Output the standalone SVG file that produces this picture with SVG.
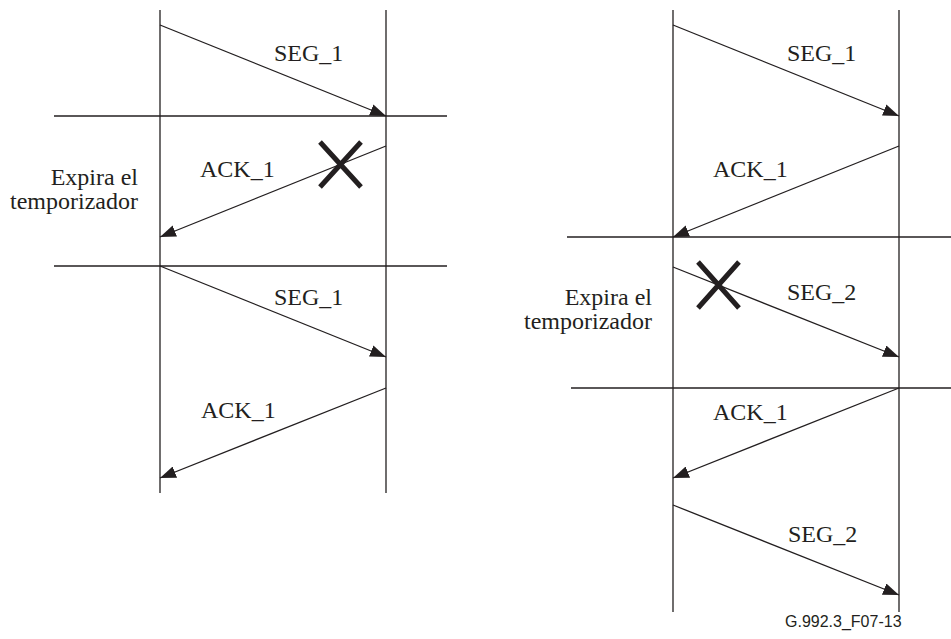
<svg xmlns="http://www.w3.org/2000/svg" width="951" height="639" viewBox="0 0 951 639">
<style>
.ln{stroke:#231f20;stroke-width:1.3;fill:none}
.ar{stroke:#231f20;stroke-width:1.3;fill:none;marker-end:url(#ah)}
.x{stroke:#231f20;stroke-width:5;fill:none}
.t{font-family:"Liberation Serif","DejaVu Serif","Times New Roman",serif;font-size:24px;fill:#231f20}
.f{font-family:"Liberation Sans",Arial,sans-serif;font-size:16px;fill:#231f20}
</style>
<defs>
<marker id="ah" markerUnits="userSpaceOnUse" markerWidth="18" markerHeight="12" refX="16" refY="6" orient="auto">
<path d="M0,0 L16,6 L0,12 Z" fill="#231f20"/>
</marker>
</defs>
<rect width="951" height="639" fill="#fff"/>
<g id="left-lifelines">
<line class="ln" x1="160" y1="10" x2="160" y2="493"/>
<line class="ln" x1="386" y1="10" x2="386" y2="493"/>
<line class="ln" x1="54" y1="116" x2="447" y2="116"/>
<line class="ln" x1="54" y1="266" x2="447" y2="266"/>
</g>
<g id="right-lifelines">
<line class="ln" x1="673" y1="10" x2="673" y2="612"/>
<line class="ln" x1="899" y1="10" x2="899" y2="612"/>
<line class="ln" x1="567" y1="237" x2="951" y2="237"/>
<line class="ln" x1="571" y1="388" x2="951" y2="388"/>
</g>
<g id="connectors">
<line class="ar" x1="160" y1="25" x2="386" y2="116"/>
<line class="ar" x1="386" y1="146" x2="160" y2="237"/>
<line class="ar" x1="160" y1="266" x2="386" y2="357"/>
<line class="ar" x1="386" y1="388" x2="160" y2="478"/>
<line class="ar" x1="673" y1="25" x2="899" y2="116"/>
<line class="ar" x1="899" y1="146" x2="673" y2="237"/>
<line class="ar" x1="673" y1="267" x2="899" y2="357"/>
<line class="ar" x1="899" y1="388" x2="673" y2="478"/>
<line class="ar" x1="673" y1="505" x2="899" y2="595"/>
</g>
<g id="lost-marks">
<path class="x" d="M320,142 L361,187 M361,142 L320,187"/>
<path class="x" d="M698,262 L739,308 M739,262 L698,308"/>
</g>
<g id="labels">
<text class="t" x="274" y="61">SEG_1</text>
<text class="t" x="200" y="177">ACK_1</text>
<text class="t" x="274" y="305">SEG_1</text>
<text class="t" x="201" y="418">ACK_1</text>
<text class="t" x="138" y="185" text-anchor="end">Expira el</text>
<text class="t" x="138" y="209" text-anchor="end">temporizador</text>
<text class="t" x="787" y="61">SEG_1</text>
<text class="t" x="713" y="177">ACK_1</text>
<text class="t" x="787" y="300">SEG_2</text>
<text class="t" x="713" y="420">ACK_1</text>
<text class="t" x="788" y="542">SEG_2</text>
<text class="t" x="652" y="305" text-anchor="end">Expira el</text>
<text class="t" x="652" y="329" text-anchor="end">temporizador</text>
<text class="f" x="785" y="627">G.992.3_F07-13</text>
</g>
</svg>
